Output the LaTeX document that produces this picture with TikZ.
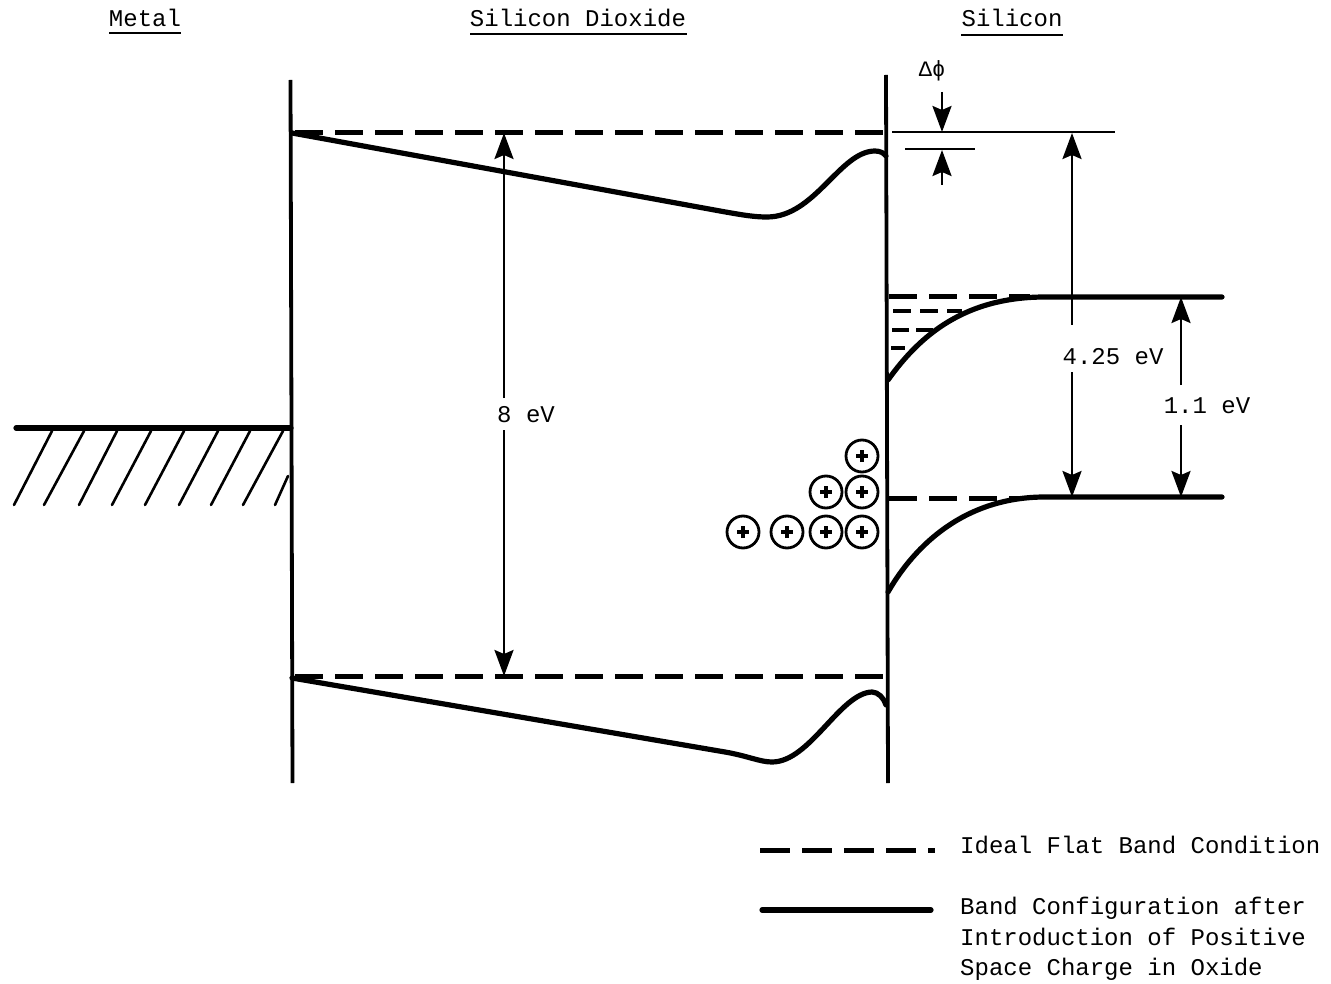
\documentclass[tikz,border=0pt]{standalone}
\usepackage{fontspec}
\setmainfont{Liberation Mono}
\usetikzlibrary{arrows.meta}
\tikzset{
  x=1pt,y=-1pt,
  wall/.style={line width=3.8pt},
  band/.style={line width=5.2pt,line cap=round},
  flat/.style={line width=5pt,dash pattern=on 28pt off 12pt},
  thinline/.style={line width=2.4pt},
  hatch/.style={line width=2.6pt,line cap=round},
  dim/.style={line width=2.6pt,-{Stealth[length=26pt,width=19pt,inset=4pt]}},
  lbl/.style={inner sep=0pt,font=\fontsize{24}{24}\selectfont,anchor=base west},
  title/.style={lbl,anchor=base},
  charge/.style={circle,draw,line width=2.8pt,minimum size=32pt,inner sep=0pt},
  uline/.style={line width=2pt}
}
\newcommand{\plusmark}[1]{\draw[line width=3.4pt] ([xshift=-6pt]#1.center) -- ([xshift=6pt]#1.center) ([yshift=-6pt]#1.center) -- ([yshift=6pt]#1.center);}
\begin{document}
\begin{tikzpicture}
\useasboundingbox (0,0) rectangle (1331,984);
% titles
\node[title] (tm) at (145,27) {Metal};
\node[title] (ts) at (578,27) {Silicon Dioxide};
\node[title] (tsi) at (1012,27) {Silicon};
\draw[uline] (109,33) -- (181,33);
\draw[uline] (470,34) -- (687,34);
\draw[uline] (961,35) -- (1063,35);
% walls
\draw[wall] (290.5,80) -- (292.5,783);
\draw[wall] (886,75) -- (888,783);
% metal
\draw[band] (16,428) -- (291,428);
\foreach \a/\b in {52/14,84/44,117/79,151/112,184/145,218/179,250/211,283/243}
  \draw[hatch] (\a,431) -- (\b,505);
\draw[hatch] (288,476) -- (275,505);
% oxide flat bands
\draw[flat] (295,133) -- (886,133);
\draw[flat] (295,676) -- (886,676);
% oxide bent bands
\draw[band] (292,133) -- (720,211) .. controls (745,215.5) and (755,217) .. (767,217)
  .. controls (815,217) and (840,151) .. (875,151) .. controls (880,151) and (884,153) .. (886,156);
\draw[band] (292,678) -- (725,752) .. controls (748,756) and (760,762) .. (772,762)
  .. controls (810,762) and (840,693) .. (872,692) .. controls (878,692) and (884,698) .. (886,705);
% silicon bands
\draw[flat] (889,297) -- (1030,297);
\draw[line width=4.6pt,dash pattern=on 18pt off 9pt] (893,311) -- (962,311);
\draw[line width=4.6pt,dash pattern=on 17pt off 7pt] (892,330) -- (935,330);
\draw[line width=4.6pt] (891,348) -- (905,348);
\draw[flat] (889,498) -- (1020,498);
\draw[band] (888,380) .. controls (920,335) and (965,297) .. (1045,297) -- (1222,297);
\draw[band] (888,592) .. controls (915,545) and (965,497) .. (1045,497) -- (1222,497);
% space charge
\foreach \n/\x/\y in {c1/862/456,c2/826/492,c3/862/492,c4/743/532,c5/787/532,c6/826/532,c7/862/532}{
  \node[charge] (\n) at (\x,\y) {};
  \plusmark{\n}
}
% delta phi
\draw[thinline] (892,132) -- (1115,132);
\draw[thinline] (905,149) -- (975,149);
\node[inner sep=0pt,font=\fontsize{22}{22}\selectfont] (dp) at (932,71) {Δϕ};
\coordinate (dpa) at (942,92);
\coordinate (dpb) at (942,132);
\coordinate (dpc) at (942,185);
\coordinate (dpd) at (942,150);
\draw[dim] (dpa) -- (dpb);
\draw[dim] (dpc) -- (dpd);
% dimensions
\node[lbl,anchor=base] (e8) at (526,422) {8 eV};
\coordinate (e8t) at (504,133);
\coordinate (e8b) at (504,676);
\draw[dim] (504,398) -- (e8t);
\draw[dim] (504,430) -- (e8b);
\node[lbl,anchor=base] (e4) at (1113,364) {4.25 eV};
\coordinate (e4t) at (1072,133);
\coordinate (e4b) at (1072,497);
\draw[dim] (1072,325) -- (e4t);
\draw[dim] (1072,372) -- (e4b);
\node[lbl,anchor=base] (e1) at (1207,413) {1.1 eV};
\coordinate (e1t) at (1181,297);
\coordinate (e1b) at (1181,497);
\draw[dim] (1181,385) -- (e1t);
\draw[dim] (1181,425) -- (e1b);
% legend
\draw[line width=5pt,dash pattern=on 30pt off 12pt] (760,850) -- (935,850);
\draw[band] (762,910) -- (931,910);
\node[lbl] (l1) at (960,853) {Ideal Flat Band Condition};
\node[lbl] (l2) at (960,914) {Band Configuration after};
\node[lbl] (l3) at (960,945) {Introduction of Positive};
\node[lbl] (l4) at (960,975) {Space Charge in Oxide};
\end{tikzpicture}
\end{document}
